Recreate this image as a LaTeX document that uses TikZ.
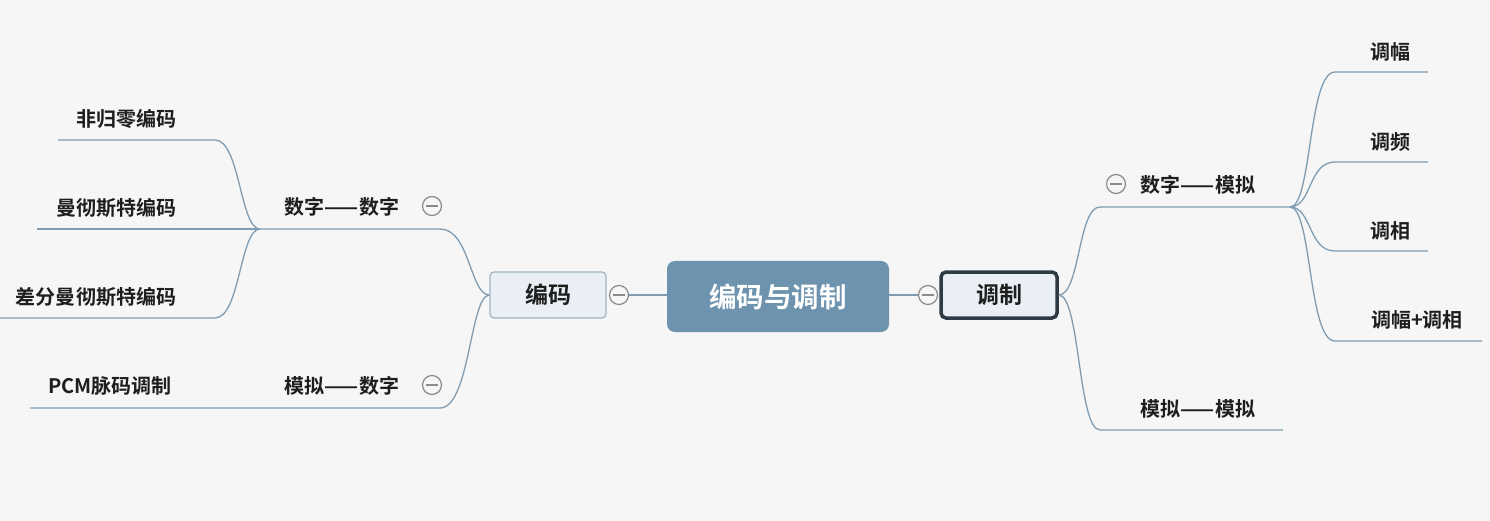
\documentclass[tikz,border=0pt]{standalone}
\usepackage{fontspec}
\setmainfont{Noto Sans CJK SC}[BoldFont={Noto Sans CJK SC Bold}]
\definecolor{bg}{HTML}{F6F6F6}
\definecolor{ln}{HTML}{7F9CB2}
\definecolor{ctr}{HTML}{6D93AE}
\definecolor{boxf}{HTML}{E9EFF4}
\definecolor{boxd}{HTML}{9DB4C6}
\definecolor{dark}{HTML}{2E3A44}
\definecolor{txt}{HTML}{1E1E1E}
\definecolor{circ}{HTML}{8A8A8A}
\begin{document}
\begin{tikzpicture}[x=1pt,y=-1pt,
  conn/.style={draw=ln,line width=1.3pt},
  lbl/.style={font=\fontsize{20}{22}\selectfont\bfseries,text=txt,inner sep=0pt},
  minus/.style={circle,draw=circ,line width=1.2pt,minimum size=19pt,inner sep=0pt,fill=bg,
    path picture={\draw[circ,line width=1.2pt] ([xshift=-6pt]path picture bounding box.center) -- ([xshift=6pt]path picture bounding box.center);}},
  mid/.style={draw=boxd,fill=boxf,rounded corners=4pt,line width=1.2pt,minimum width=116pt,minimum height=46pt,font=\fontsize{23}{25}\selectfont\bfseries,text=txt}]
\fill[bg] (0,0) rectangle (1490,521);
\useasboundingbox (0,0) rectangle (1490,521);
% central
\node[fill=ctr,rounded corners=8pt,minimum width=222pt,minimum height=71pt,text=white,font=\fontsize{27.5}{29}\selectfont\bfseries] (root) at (778,296.5) {编码与调制};
\node[mid] (bm) at (548,295) {编码};
\node[mid,draw=dark,line width=3.5pt,rounded corners=5pt] (tz) at (999,295) {调制};
\node[minus] (m1) at (619,295) {};
\node[minus] (m2) at (928,295) {};
\draw[conn] (m1.east) -- (m1.east -| root.west);
\draw[conn] (m2.west) -- (m2.west -| root.east);
% left coordinates
\coordinate (szR) at (440,229);
\coordinate (szL) at (260,229);
\coordinate (mnR) at (440,408);
\coordinate (mnL) at (30,408);
\coordinate (f1R) at (215,140);
\coordinate (f1L) at (58,140);
\coordinate (f2L) at (37,229);
\coordinate (f3R) at (215,318);
\coordinate (f3L) at (0,318);
\draw[conn] (bm.west) .. controls (470,295) and (470,229) .. (szR) -- (szL);
\draw[conn] (bm.west) .. controls (470,295) and (470,408) .. (mnR) -- (mnL);
\draw[conn] (szL) .. controls (240,229) and (240,140) .. (f1R) -- (f1L);
\draw[conn] (szL) -- (f2L);
\draw[conn] (szL) .. controls (240,229) and (240,318) .. (f3R) -- (f3L);
\node[lbl] (sz) at (342,207) {数字——数字};
\node[minus] (m3) at (432,206) {};
\node[lbl] (mn) at (342,386) {模拟——数字};
\node[minus] (m4) at (432,385) {};
\node[lbl] (f1) at (126,119) {非归零编码};
\node[lbl] (f2) at (116,208) {曼彻斯特编码};
\node[lbl] (f3) at (96,297) {差分曼彻斯特编码};
\node[lbl] (pcm) at (110,386) {PCM脉码调制};
% right
\coordinate (smL) at (1100,207);
\coordinate (smR) at (1290,207);
\coordinate (mmL) at (1100,430);
\coordinate (mmR) at (1283,430);
\coordinate (a1L) at (1335,72);
\coordinate (a1R) at (1428,72);
\coordinate (a2L) at (1335,162);
\coordinate (a2R) at (1428,162);
\coordinate (a3L) at (1335,251);
\coordinate (a3R) at (1428,251);
\coordinate (a4L) at (1335,341);
\coordinate (a4R) at (1482,341);
\draw[conn] (tz.east) .. controls (1080,295) and (1078,207) .. (smL) -- (smR);
\draw[conn] (tz.east) .. controls (1080,295) and (1078,430) .. (mmL) -- (mmR);
\draw[conn] (smR) .. controls (1312,207) and (1308,72) .. (a1L) -- (a1R);
\draw[conn] (smR) .. controls (1312,207) and (1308,162) .. (a2L) -- (a2R);
\draw[conn] (smR) .. controls (1312,207) and (1308,251) .. (a3L) -- (a3R);
\draw[conn] (smR) .. controls (1312,207) and (1308,341) .. (a4L) -- (a4R);
\node[minus] (m5) at (1116,184) {};
\node[lbl] (sm) at (1198,185) {数字——模拟};
\node[lbl] (mm) at (1198,409) {模拟——模拟};
\node[lbl] (a1) at (1390,52) {调幅};
\node[lbl] (a2) at (1390,142) {调频};
\node[lbl] (a3) at (1390,231) {调相};
\node[lbl] (a4) at (1417,320) {调幅+调相};
\end{tikzpicture}
\end{document}
